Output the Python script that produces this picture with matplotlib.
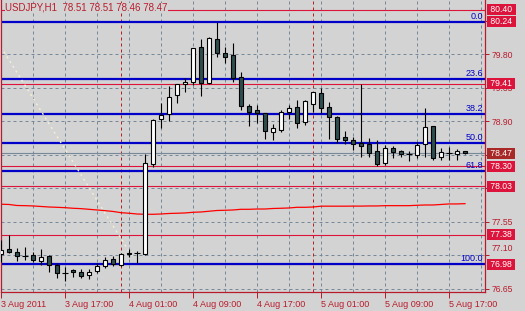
import matplotlib
matplotlib.use("Agg")
import matplotlib.pyplot as plt
from matplotlib.patches import Rectangle
from matplotlib.transforms import blended_transform_factory, ScaledTranslation

plt.rcParams['font.family'] = ['Liberation Sans', 'DejaVu Sans']

# USDJPY H1, bars from 3 Aug 09:00
opens = [77.12, 77.19, 77.15, 77.09, 77.11, 77.03, 77.09, 76.97, 76.86, 76.90,
         76.88, 76.84, 76.89, 76.96, 77.05, 76.97, 77.13, 77.13, 77.12, 78.33,
         78.93, 79.00, 79.26, 79.40, 79.43, 79.90, 79.42, 80.01, 79.82, 79.79,
         79.50, 79.11, 79.05, 79.01, 78.76, 78.79, 79.03, 79.10, 78.89, 79.14,
         79.28, 79.10, 78.96, 78.69, 78.65, 78.61, 78.60, 78.50, 78.34, 78.54,
         78.50, 78.46, 78.45, 78.60, 78.84, 78.42, 78.48, 78.46, 78.51]
highs = [77.31, 77.38, 77.20, 77.21, 77.15, 77.19, 77.10, 77.00, 76.95, 76.92,
         76.92, 76.92, 77.00, 77.08, 77.09, 77.13, 77.19, 77.16, 78.46, 78.93,
         79.15, 79.38, 79.40, 79.48, 79.89, 80.01, 80.04, 80.24, 79.90, 79.95,
         79.57, 79.14, 79.12, 79.02, 78.87, 79.05, 79.12, 79.19, 79.19, 79.30,
         79.35, 79.16, 78.97, 78.77, 78.69, 79.40, 78.68, 78.65, 78.58, 78.57,
         78.52, 78.50, 78.62, 79.08, 78.84, 78.54, 78.56, 78.53, 78.51]
lows = [77.01, 77.13, 77.03, 77.04, 77.01, 76.97, 76.88, 76.80, 76.76, 76.81,
        76.80, 76.78, 76.87, 76.93, 76.96, 76.96, 77.08, 77.00, 77.11, 78.29,
        78.81, 78.91, 79.15, 79.30, 79.39, 79.24, 79.40, 79.77, 79.69, 79.43,
        79.05, 78.84, 78.88, 78.67, 78.65, 78.76, 78.93, 78.81, 78.85, 79.03,
        79.01, 78.67, 78.61, 78.60, 78.52, 78.42, 78.42, 78.30, 78.32, 78.41,
        78.42, 78.37, 78.41, 78.42, 78.38, 78.38, 78.38, 78.38, 78.46]
closes = [77.17, 77.15, 77.09, 77.09, 77.04, 77.08, 76.97, 76.86, 76.86, 76.88,
          76.82, 76.88, 76.96, 77.04, 76.99, 77.12, 77.12, 77.13, 78.34, 78.92,
          78.99, 79.23, 79.40, 79.43, 79.89, 79.42, 80.02, 79.82, 79.77, 79.48,
          79.11, 79.03, 79.01, 78.77, 78.81, 79.03, 79.08, 78.88, 79.18, 79.30,
          79.08, 78.96, 78.67, 78.65, 78.60, 78.57, 78.48, 78.33, 78.54, 78.49,
          78.46, 78.46, 78.58, 78.83, 78.41, 78.49, 78.48, 78.50, 78.47]

# moving average (red line)
ma = [77.788, 77.785, 77.771, 77.769, 77.765, 77.758, 77.751, 77.747, 77.742, 77.734,
      77.729, 77.720, 77.711, 77.702, 77.691, 77.675, 77.667, 77.657, 77.653, 77.653,
      77.657, 77.664, 77.667, 77.671, 77.680, 77.684, 77.694, 77.704, 77.707, 77.711,
      77.720, 77.720, 77.724, 77.724, 77.731, 77.734, 77.738, 77.747, 77.747, 77.751,
      77.762, 77.762, 77.762, 77.762, 77.763, 77.763, 77.765, 77.765, 77.769, 77.769,
      77.769, 77.769, 77.774, 77.778, 77.778, 77.785, 77.792, 77.792, 77.796]

# dotted trendline
trend_bars = [0, 16.5]
trend_prices = [79.90, 77.07]

fib_high = 80.24
fib_low = 76.99
fib_ratios = [0.0, 23.6, 38.2, 50.0, 61.8, 100.0]

red_levels = [80.40, 79.41, 78.30, 78.03, 77.38, 76.98]
box_labels = [80.40, 80.24, 79.41, 78.30, 78.03, 77.38, 76.98]
bid = 78.47

price_ticks = [76.65, 77.10, 77.55, 78.00, 78.45, 78.90, 79.35, 79.80, 80.25]
hidden_ticks = [78.00, 78.45, 80.25]  # covered by the price boxes
time_ticks = [0, 8, 16, 24, 32, 40, 48, 56]
time_labels = ['3 Aug 2011', '3 Aug 17:00', '4 Aug 01:00', '4 Aug 09:00',
               '4 Aug 17:00', '5 Aug 01:00', '5 Aug 09:00', '5 Aug 17:00']
day_breaks = [15, 39]

bg = '#D3D3D3'
txt_red = '#B81C2C'
fib_blue = '#0000C8'
bear = '#2F4F4F'

fig = plt.figure(figsize=(5.25, 3.11), dpi=100, facecolor=bg)
ax = fig.add_axes([1 / 525, 19 / 311, 484 / 525, 292 / 311])
ax.set_facecolor(bg)
ax.set_xlim(0, 60.5)
ax.set_ylim(76.609, 80.532)
ax.set_axisbelow(True)

# grid
ax.set_yticks(price_ticks)
ax.set_yticklabels(['' if p in hidden_ticks else '%.2f' % p for p in price_ticks])
ax.set_xticks(time_ticks)
ax.set_xticklabels(time_labels)
ax.set_xticks([t + 4 for t in time_ticks], minor=True)
ax.grid(True, which='both', color='#778899', linestyle=(0, (3, 3)), linewidth=0.72)
ax.tick_params(axis='x', which='minor', length=0)
ax.tick_params(axis='x', which='major', direction='out', length=4, width=0.72,
               color=txt_red, labelcolor=txt_red, labelsize=6.5, pad=2)
ax.tick_params(axis='y', left=False, labelleft=False, right=True, labelright=True,
               direction='out', length=3, width=0.72, color=txt_red,
               labelcolor=txt_red, labelsize=6.2, pad=2)
for lbl in ax.get_xticklabels():
    lbl.set_ha('left')

# the 77.10 label sits a little higher, clear of the 76.98 box
t = ax.yaxis.get_major_ticks()[1]
t.label2.set_transform(t.label2.get_transform() +
                       ScaledTranslation(0, 0.08, fig.dpi_scale_trans))

for s in ['left', 'bottom', 'right']:
    ax.spines[s].set_color(txt_red)
    ax.spines[s].set_linewidth(0.9)
ax.spines['top'].set_visible(False)

for d in day_breaks:
    ax.axvline(d, color='#B22222', linestyle=(0, (3, 3)), linewidth=0.72, zorder=1)

# horizontal levels
for lv in red_levels:
    ax.axhline(lv, color='#DC143C', linewidth=0.8, zorder=1.5)
for r in fib_ratios:
    lv = fib_high - (fib_high - fib_low) * r / 100
    ax.axhline(lv, color=fib_blue, linewidth=1.6, zorder=1.6)
    ax.text(60.25, lv + 0.012, '%.1f' % r, color=fib_blue, fontsize=6.5,
            ha='right', va='bottom', zorder=4)
ax.axhline(bid, color='#778899', linewidth=0.8, zorder=1.7)

ax.plot(range(len(ma)), ma, color='#FF0000', linewidth=0.9, zorder=2)
ax.plot(trend_bars, trend_prices, color='#F5EFD5', linewidth=1.0,
        linestyle=(0, (1.5, 2.5)), zorder=2)

# candles
w = 0.5
for i in range(len(opens)):
    o, h, l, c = opens[i], highs[i], lows[i], closes[i]
    ax.vlines(i, l, h, color='black', linewidth=0.8, zorder=3)
    if abs(c - o) < 0.005:
        ax.hlines(o, i - 0.35, i + 0.35, color='black', linewidth=0.8, zorder=3.5)
    else:
        fc = 'white' if c > o else bear
        ax.add_patch(Rectangle((i - w / 2, min(o, c)), w, abs(c - o), facecolor=fc,
                               edgecolor='black', linewidth=0.8, zorder=3.5))

# right side price boxes
tr = blended_transform_factory(ax.transAxes, ax.transData)
for p in box_labels:
    ax.text(1.0 + 3 / 484, p, ' %.2f ' % p, transform=tr, color='white', fontsize=6.2,
            ha='left', va='center', clip_on=False, zorder=6,
            bbox=dict(boxstyle='square,pad=0.12', fc='#DC143C', ec='none'))
ax.text(1.0 + 3 / 484, bid, ' %.2f ' % bid, transform=tr, color='white', fontsize=6.2,
        ha='left', va='center', clip_on=False, zorder=6,
        bbox=dict(boxstyle='square,pad=0.12', fc='#A82828', ec='none'))

ax.text(4 / 484, 1 - 8 / 292, 'USDJPY,H1  %.2f %.2f %.2f %.2f'
        % (opens[-1], highs[-1], lows[-1], closes[-1]),
        transform=ax.transAxes, color=txt_red, fontsize=7, ha='left', va='center',
        zorder=7, bbox=dict(boxstyle='square,pad=0.05', fc=bg, ec='none'))

fig.savefig('out.png', dpi=100, facecolor=bg)
